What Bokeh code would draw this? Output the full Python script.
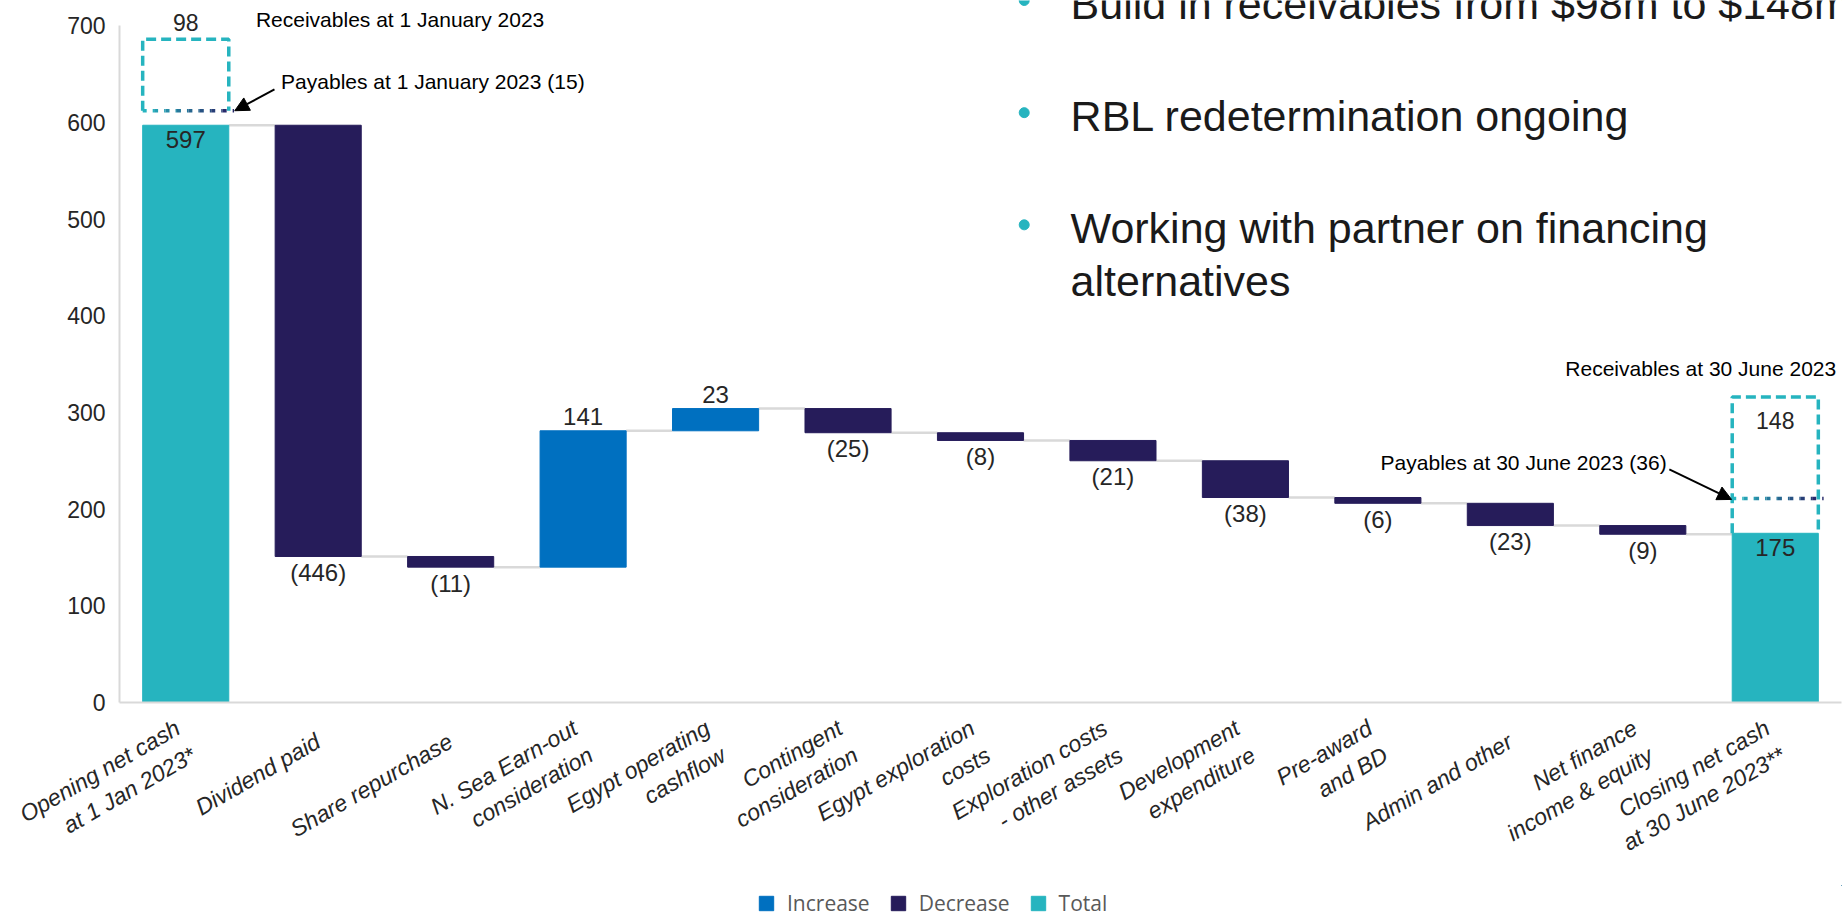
import math
from bokeh.plotting import figure
from bokeh.layouts import column
from bokeh.models import (ColumnDataSource, FactorRange, FixedTicker, Label, Arrow,
                          NormalHead, Legend, LegendItem, Range1d)
from bokeh.core.properties import value
from bokeh.embed import file_html
from bokeh.resources import INLINE

# ---------------- data ----------------
categories = [
    "Opening net cash\nat 1 Jan 2023*", "Dividend paid", "Share repurchase",
    "N. Sea Earn-out\nconsideration", "Egypt operating\ncashflow", "Contingent\nconsideration",
    "Egypt exploration\ncosts", "Exploration costs\n- other assets", "Development\nexpenditure",
    "Pre-award\nand BD", "Admin and other", "Net finance\nincome & equity",
    "Closing net cash\nat 30 June 2023**",
]
values = [597, -446, -11, 141, 23, -25, -8, -21, -38, -6, -23, -9, 175]
kinds = ["Total", "Decrease", "Decrease", "Increase", "Increase", "Decrease", "Decrease",
         "Decrease", "Decrease", "Decrease", "Decrease", "Decrease", "Total"]
legend_order = ["Increase", "Decrease", "Total"]

# receivables / payables boxes (opening, closing)
wc_index = [0, 12]
recv_labels = ["98", "148"]
recv_box_bottom = [612, 175]
recv_box_top = [686, 316]
payables_level = [612, 211]
recv_titles = ["Receivables at 1 January 2023", "Receivables at 30 June 2023"]
pay_titles = ["Payables at 1 January 2023 (15)", "Payables at 30 June 2023 (36)"]

bullets = ["Build in receivables from $98m to $148m", "RBL redetermination ongoing",
           "Working with partner on financing", "alternatives"]

y_ticks = [0, 100, 200, 300, 400, 500, 600, 700]

# ---------------- styles ----------------
COL = {"Increase": "#0070C0", "Decrease": "#261C5A", "Total": "#26B4BF"}
TEXT = "#262626"
FONT = "Liberation Sans"
BAR_W = 0.65
MAIN_H = 885
LEG_H = 917 - MAIN_H

# ---------------- derived geometry ----------------
bottoms, tops, labels, label_y, label_off = [], [], [], [], []
running = 0
ends = []
for v, k in zip(values, kinds):
    if k == "Total":
        b, t = 0, v
        running = v
        labels.append(str(v)); label_y.append(t); label_off.append(14)
    else:
        start = running
        running = running + v
        b, t = min(start, running), max(start, running)
        if v >= 0:
            labels.append(str(v)); label_y.append(t); label_off.append(-14)
        else:
            labels.append("(%d)" % (-v)); label_y.append(b); label_off.append(16)
    bottoms.append(b); tops.append(t); ends.append(running)

src = ColumnDataSource(dict(x=categories, bottom=bottoms, top=tops, kind=kinds,
                            label=labels, ly=label_y, off=label_off))

p = figure(width=1848, height=MAIN_H, x_range=FactorRange(factors=categories, range_padding=0),
           y_range=Range1d(0, 726), output_backend="svg", toolbar_location=None,
           min_border_left=119, min_border_right=7, min_border_top=0,
           min_border_bottom=MAIN_H - 702)
p.outline_line_color = None
p.xgrid.visible = False
p.ygrid.visible = False
p.background_fill_color = "white"
p.border_fill_color = "white"

# connectors
cx0 = [i + 0.5 + BAR_W / 2 for i in range(len(values) - 1)]
cx1 = [i + 1.5 - BAR_W / 2 for i in range(len(values) - 1)]
cy = ends[:-1]
p.segment(x0=cx0, y0=cy, x1=cx1, y1=cy, line_color="#d9d9d9", line_width=2.5)

for k in ["Total", "Decrease", "Increase"]:
    idx = [i for i, kk in enumerate(kinds) if kk == k]
    s = ColumnDataSource(dict(x=[categories[i] for i in idx], bottom=[bottoms[i] for i in idx],
                              top=[tops[i] for i in idx]))
    p.vbar(x="x", bottom="bottom", top="top", width=BAR_W, source=s,
           fill_color=COL[k], line_color=COL[k], line_width=1)

# value labels
p.text(x="x", y="ly", text="label", y_offset="off", source=src, text_align="center",
       text_baseline="middle", text_font=value(FONT), text_font_size=value("24px"),
       text_color=TEXT)

# receivable boxes (dashed), payables (dotted, gradient)
box_xs, box_ys = [], []
for i, b, t in zip(wc_index, recv_box_bottom, recv_box_top):
    l, r = i + 0.5 - BAR_W / 2, i + 0.5 + BAR_W / 2
    box_xs.append([l, l, r, r]); box_ys.append([b, t, t, b])
p.multi_line(xs=box_xs, ys=box_ys, line_color="#26B4BF", line_width=3.5, line_dash="10 5")

def mix(c1, c2, f):
    a = [int(c1[j:j + 2], 16) for j in (1, 3, 5)]
    b = [int(c2[j:j + 2], 16) for j in (1, 3, 5)]
    return "#%02x%02x%02x" % tuple(round(a[m] + (b[m] - a[m]) * f) for m in range(3))

nseg = 8
dxs, dys, dcs = [], [], []
for i, lvl in zip(wc_index, payables_level):
    l, r = i + 0.5 - BAR_W / 2, i + 0.5 + BAR_W / 2 + 0.04
    for s_ in range(nseg):
        a = l + (r - l) * s_ / nseg
        bb = l + (r - l) * (s_ + 1) / nseg
        dxs.append([a, bb]); dys.append([lvl, lvl]); dcs.append(mix("#26B4BF", "#27296a", s_ / (nseg - 1)))
p.multi_line(xs=dxs, ys=dys, line_color=dcs, line_width=3.5, line_dash="4 6")

# receivables values
p.text(x=[0.5], y=[recv_box_top[0]], text=[recv_labels[0]], y_offset=-17, text_align="center",
       text_baseline="middle", text_font=value(FONT), text_font_size=value("23px"), text_color=TEXT)
p.text(x=[12.5], y=[recv_box_top[1]], text=[recv_labels[1]], y_offset=24, text_align="center",
       text_baseline="middle", text_font=value(FONT), text_font_size=value("23px"), text_color=TEXT)

# annotation texts
def lab(x, y, t, align="left", size="21px"):
    p.add_layout(Label(x=x, y=y, text=t, text_align=align, text_baseline="middle",
                       text_font=FONT, text_font_size=size, text_color="black"))

lab(1.03, 706, recv_titles[0])
lab(1.22, 642, pay_titles[0])
lab(12.96, 345, recv_titles[1], align="right")
lab(11.68, 248, pay_titles[1], align="right")

head = dict(size=14, fill_color="black", line_color="black")
p.add_layout(Arrow(end=NormalHead(**head), x_start=1.17, y_start=634, x_end=0.87, y_end=612,
                   line_width=2, line_color="black"))
p.add_layout(Arrow(end=NormalHead(**head), x_start=11.70, y_start=241, x_end=12.17, y_end=210,
                   line_width=2, line_color="black"))

# bullets
bullet_y = [722, 606.5, 490.7, 435.9]
for t, yy in zip(bullets, bullet_y):
    p.add_layout(Label(x=7.18, y=yy, text=t, text_align="left", text_baseline="middle",
                       text_font=FONT, text_font_size="43px", text_color="#1a1a1a"))
p.scatter(x=[6.83, 6.83, 6.83], y=[726, 610, 494], size=10, marker="circle",
          fill_color="#26B4BF", line_color="#26B4BF")

# axes
p.yaxis.ticker = FixedTicker(ticks=y_ticks)
p.yaxis.bounds = (0, 700)
p.yaxis.axis_line_color = "#d9d9d9"
p.yaxis.axis_line_width = 2
p.yaxis.major_tick_line_color = None
p.yaxis.minor_tick_line_color = None
p.yaxis.major_label_standoff = 8
p.yaxis.major_label_text_font = FONT
p.yaxis.major_label_text_font_size = "23px"
p.yaxis.major_label_text_color = TEXT

p.xaxis.axis_line_color = "#d9d9d9"
p.xaxis.axis_line_width = 2
p.xaxis.major_tick_line_color = None
p.xaxis.minor_tick_line_color = None
p.xaxis.major_label_orientation = math.pi / 6
p.xaxis.major_label_standoff = 31
p.xaxis.major_label_text_font = FONT
p.xaxis.major_label_text_font_style = "italic"
p.xaxis.major_label_text_font_size = "23px"
p.xaxis.major_label_text_color = TEXT

# legend strip below the chart (its frame is aligned with the chart's frame)
pl = figure(width=1848, height=LEG_H, x_range=Range1d(0, 1), y_range=Range1d(0, 1),
            output_backend="svg", toolbar_location=None, min_border=0,
            min_border_left=119, min_border_right=7)
pl.axis.visible = False
pl.grid.visible = False
pl.outline_line_color = None
items = []
for k in legend_order:
    r = pl.vbar(x=[5], top=[5], bottom=[4], width=0.1, fill_color=COL[k], line_color=COL[k])
    items.append(LegendItem(label=k, renderers=[r]))
legend = Legend(items=items, orientation="horizontal", location=(638, 0), glyph_width=18,
                glyph_height=18, label_standoff=12, spacing=19, padding=0, margin=0,
                border_line_color=None, background_fill_alpha=0, label_text_font="Open Sans",
                label_text_font_size="21px", label_text_color="#595959", label_height=18)
pl.add_layout(legend)

layout = column(p, pl, spacing=0)
open("out.html", "w").write(file_html(layout, INLINE))
